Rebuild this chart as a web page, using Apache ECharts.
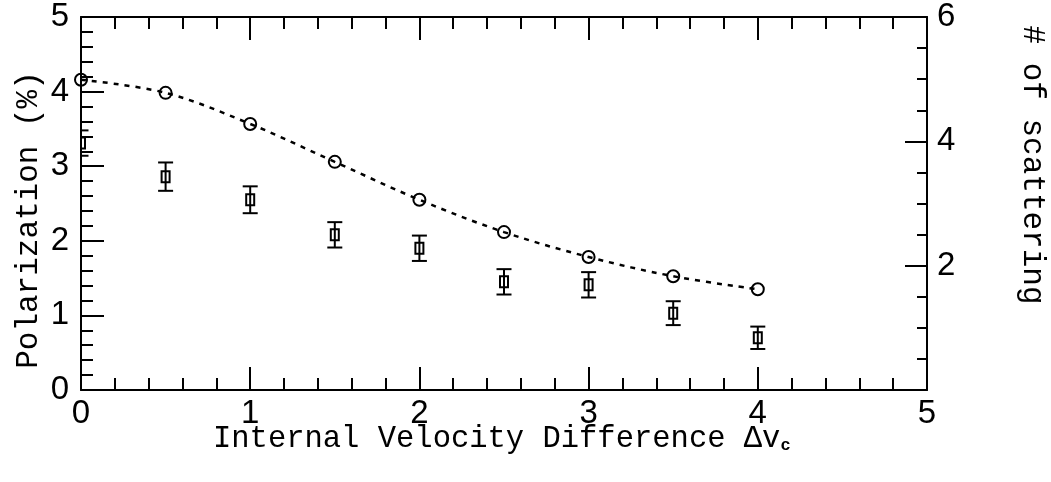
<!DOCTYPE html>
<html><head><meta charset="utf-8">
<script src="https://cdn.jsdelivr.net/npm/echarts@6/dist/echarts.min.js"></script>
<style>html,body{margin:0;padding:0;background:#fff}#c{width:1051px;height:482px}</style>
</head><body><div id="c"></div>
<script>
const velocity = [0, 0.5, 1, 1.5, 2, 2.5, 3, 3.5, 4];
const polarization = [3.31, 2.86, 2.55, 2.08, 1.90, 1.45, 1.41, 1.03, 0.70];
const polarizationErr = [0.17, 0.19, 0.18, 0.17, 0.17, 0.17, 0.17, 0.16, 0.15];
const scatterings = [4.99, 4.78, 4.28, 3.67, 3.06, 2.54, 2.14, 1.83, 1.62];
const xTitle = 'Internal Velocity Difference Δv';
const xTitleSub = 'c';
const yTitle = 'Polarization (%)';
const y2Title = '# of scattering';

const chart = echarts.init(document.getElementById('c'), null, {renderer: 'canvas'});
const black = '#000';
const tickFont = {fontSize: 33, fontFamily: 'Liberation Sans', color: black};
const mono = 'Liberation Mono';

function xAx(pos, showLabel) {
  return {
    type: 'value', min: 0, max: 5, interval: 1, position: pos,
    axisLine: {show: true, onZero: false, lineStyle: {color: black, width: 2}},
    axisTick: {show: true, inside: true, length: 23, lineStyle: {color: black, width: 2}},
    minorTick: {show: true, splitNumber: 5, length: 12, lineStyle: {color: black, width: 2}},
    splitLine: {show: false}, minorSplitLine: {show: false},
    axisLabel: Object.assign({show: showLabel, margin: 7}, tickFont)
  };
}

const option = {
  animation: false,
  backgroundColor: '#fff',
  grid: {left: 81, right: 124, top: 17, bottom: 92, containLabel: false},
  xAxis: [xAx('bottom', true), xAx('top', false)],
  yAxis: [
    {
      type: 'value', min: 0, max: 5, interval: 1, position: 'left',
      axisLine: {show: true, onZero: false, lineStyle: {color: black, width: 2}},
      axisTick: {show: true, inside: true, length: 23, lineStyle: {color: black, width: 2}},
      minorTick: {show: true, splitNumber: 5, length: 12, lineStyle: {color: black, width: 2}},
      splitLine: {show: false}, minorSplitLine: {show: false},
      axisLabel: Object.assign({margin: 12}, tickFont)
    },
    {
      type: 'value', min: 0, max: 6, interval: 2, position: 'right',
      axisLine: {show: true, onZero: false, lineStyle: {color: black, width: 2}},
      axisTick: {show: true, inside: true, length: 22, lineStyle: {color: black, width: 2}},
      minorTick: {show: true, splitNumber: 4, length: 10, lineStyle: {color: black, width: 2}},
      splitLine: {show: false}, minorSplitLine: {show: false},
      axisLabel: Object.assign({margin: 10, formatter: v => v === 0 ? '' : String(v)}, tickFont)
    }
  ],
  series: [
    {
      type: 'line', xAxisIndex: 0, yAxisIndex: 1,
      data: velocity.map((v, i) => [v, scatterings[i]]),
      smooth: 0.35, clip: true,
      symbol: 'circle', symbolSize: 12,
      lineStyle: {color: black, width: 2.5, type: [5, 6]},
      itemStyle: {color: 'rgba(255,255,255,0)', borderColor: black, borderWidth: 2}
    },
    {
      type: 'custom', xAxisIndex: 0, yAxisIndex: 0, clip: true,
      data: velocity.map((v, i) => [v, polarization[i], polarizationErr[i]]),
      renderItem: function (params, api) {
        const x = api.value(0), y = api.value(1), e = api.value(2);
        const c = api.coord([x, y]), lo = api.coord([x, y - e]), hi = api.coord([x, y + e]);
        const cap = 7.5, w = 4, h = 5.5;
        const st = {stroke: black, lineWidth: 2, fill: null};
        return {type: 'group', children: [
          {type: 'line', shape: {x1: c[0], y1: hi[1], x2: c[0], y2: lo[1]}, style: st},
          {type: 'line', shape: {x1: c[0] - cap, y1: hi[1], x2: c[0] + cap, y2: hi[1]}, style: st},
          {type: 'line', shape: {x1: c[0] - cap, y1: lo[1], x2: c[0] + cap, y2: lo[1]}, style: st},
          {type: 'rect', shape: {x: c[0] - w, y: c[1] - h, width: 2 * w, height: 2 * h}, style: {stroke: black, lineWidth: 2, fill: 'rgba(255,255,255,0)'}}
        ]};
      }
    }
  ],
  graphic: [
    {type: 'text', x: 29, y: 220, rotation: Math.PI / 2,
     style: {text: yTitle, fontSize: 31, fontFamily: mono, fill: black, align: 'center', verticalAlign: 'middle'}},
    {type: 'text', x: 1032, y: 165, rotation: -Math.PI / 2,
     style: {text: y2Title, fontSize: 31, fontFamily: mono, fill: black, align: 'center', verticalAlign: 'middle'}},
    {type: 'text', x: 213, y: 439,
     style: {text: '{a|' + xTitle + '}{b|' + xTitleSub + '}', fill: black, align: 'left', verticalAlign: 'middle',
       rich: {a: {fontSize: 30.5, fontFamily: mono, fill: black},
              b: {fontSize: 17, fontWeight: 'bold', fontFamily: mono, fill: black, verticalAlign: 'bottom'}}}}
  ]
};
chart.setOption(option);
</script>
</body></html>
